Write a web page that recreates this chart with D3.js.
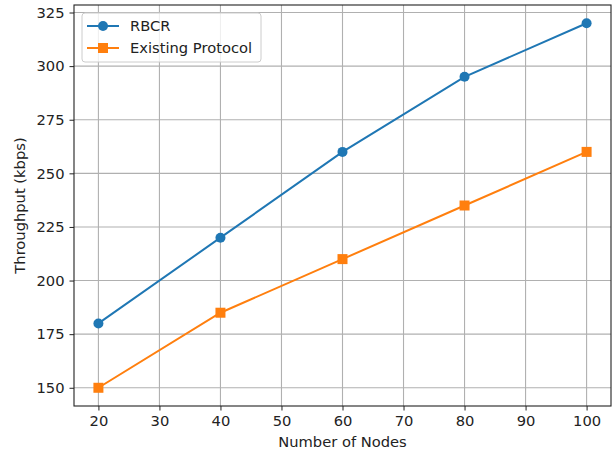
<!DOCTYPE html>
<html><head><meta charset="utf-8">
<script src="https://cdn.jsdelivr.net/npm/d3@7"></script>
<style>body{margin:0;background:#fff}svg{display:block}text{font-family:"DejaVu Sans",sans-serif;fill:#222}</style>
</head><body><svg id="c" width="614" height="455"></svg>
<script>
const nodes = [20, 40, 60, 80, 100];
const rbcr = [180, 220, 260, 295, 320];
const existing = [150, 185, 210, 235, 260];
const xTicks = [20, 30, 40, 50, 60, 70, 80, 90, 100];
const yTicks = [150, 175, 200, 225, 250, 275, 300, 325];
const seriesNames = ["RBCR", "Existing Protocol"];
const colors = ["#1f77b4", "#ff7f0e"];
const FS = 14.7;

const L = 74, R = 611, T = 5, B = 406;
const svg = d3.select("#c");
const x = d3.scaleLinear().domain([16, 104]).range([L, R]);
const y = d3.scaleLinear().domain([141.5, 328.5]).range([B, T]);

// grid
const g = svg.append("g");
g.selectAll(".gx").data(xTicks).enter().append("line")
  .attr("x1", d => x(d)).attr("x2", d => x(d)).attr("y1", T).attr("y2", B)
  .attr("stroke", "#b0b0b0").attr("stroke-width", 1.1);
g.selectAll(".gy").data(yTicks).enter().append("line")
  .attr("y1", d => y(d)).attr("y2", d => y(d)).attr("x1", L).attr("x2", R)
  .attr("stroke", "#b0b0b0").attr("stroke-width", 1.1);

// axes
const xa = svg.append("g").attr("transform", `translate(0,${B})`)
  .call(d3.axisBottom(x).tickValues(xTicks).tickSize(4.5).tickPadding(5).tickFormat(d3.format("d")));
const ya = svg.append("g").attr("transform", `translate(${L},0)`)
  .call(d3.axisLeft(y).tickValues(yTicks).tickSize(4.5).tickPadding(5).tickFormat(d3.format("d")));
[xa, ya].forEach(a => {
  a.select(".domain").remove();
  a.selectAll("line").attr("stroke", "#222").attr("stroke-width", 1);
  a.selectAll("text").attr("font-size", FS).attr("font-family", "DejaVu Sans").attr("fill", "#222");
});

svg.append("rect").attr("x", L).attr("y", T).attr("width", R - L).attr("height", B - T)
  .attr("fill", "none").attr("stroke", "#222").attr("stroke-width", 1.1);

// lines
const line = d3.line().x(d => x(d[0])).y(d => y(d[1]));
const data = [rbcr, existing];
data.forEach((vals, i) => {
  const pts = nodes.map((n, j) => [n, vals[j]]);
  svg.append("path").datum(pts).attr("d", line).attr("fill", "none")
    .attr("stroke", colors[i]).attr("stroke-width", 2);
  if (i === 0) {
    svg.selectAll(".m0").data(pts).enter().append("circle")
      .attr("cx", d => x(d[0])).attr("cy", d => y(d[1])).attr("r", 5).attr("fill", colors[i]);
  } else {
    svg.selectAll(".m1").data(pts).enter().append("rect")
      .attr("x", d => x(d[0]) - 5).attr("y", d => y(d[1]) - 5).attr("width", 10).attr("height", 10).attr("fill", colors[i]);
  }
});

// labels
svg.append("text").attr("x", (L + R) / 2).attr("y", 447).attr("text-anchor", "middle")
  .attr("font-size", FS).text("Number of Nodes");
svg.append("text").attr("transform", `translate(25,${(T + B) / 2}) rotate(-90)`).attr("text-anchor", "middle")
  .attr("font-size", FS).text("Throughput (kbps)");

// legend
const lg = svg.append("g");
lg.append("rect").attr("x", 82).attr("y", 13).attr("width", 179).attr("height", 49).attr("rx", 3)
  .attr("fill", "#fff").attr("fill-opacity", 0.8).attr("stroke", "#ccc").attr("stroke-width", 1);
seriesNames.forEach((name, i) => {
  const yy = 26 + i * 22;
  lg.append("line").attr("x1", 87).attr("x2", 119).attr("y1", yy).attr("y2", yy)
    .attr("stroke", colors[i]).attr("stroke-width", 2);
  if (i === 0) lg.append("circle").attr("cx", 103).attr("cy", yy).attr("r", 5).attr("fill", colors[i]);
  else lg.append("rect").attr("x", 98).attr("y", yy - 5).attr("width", 10).attr("height", 10).attr("fill", colors[i]);
  lg.append("text").attr("x", 130).attr("y", yy + 5).attr("font-size", FS).text(name);
});
</script></body></html>
